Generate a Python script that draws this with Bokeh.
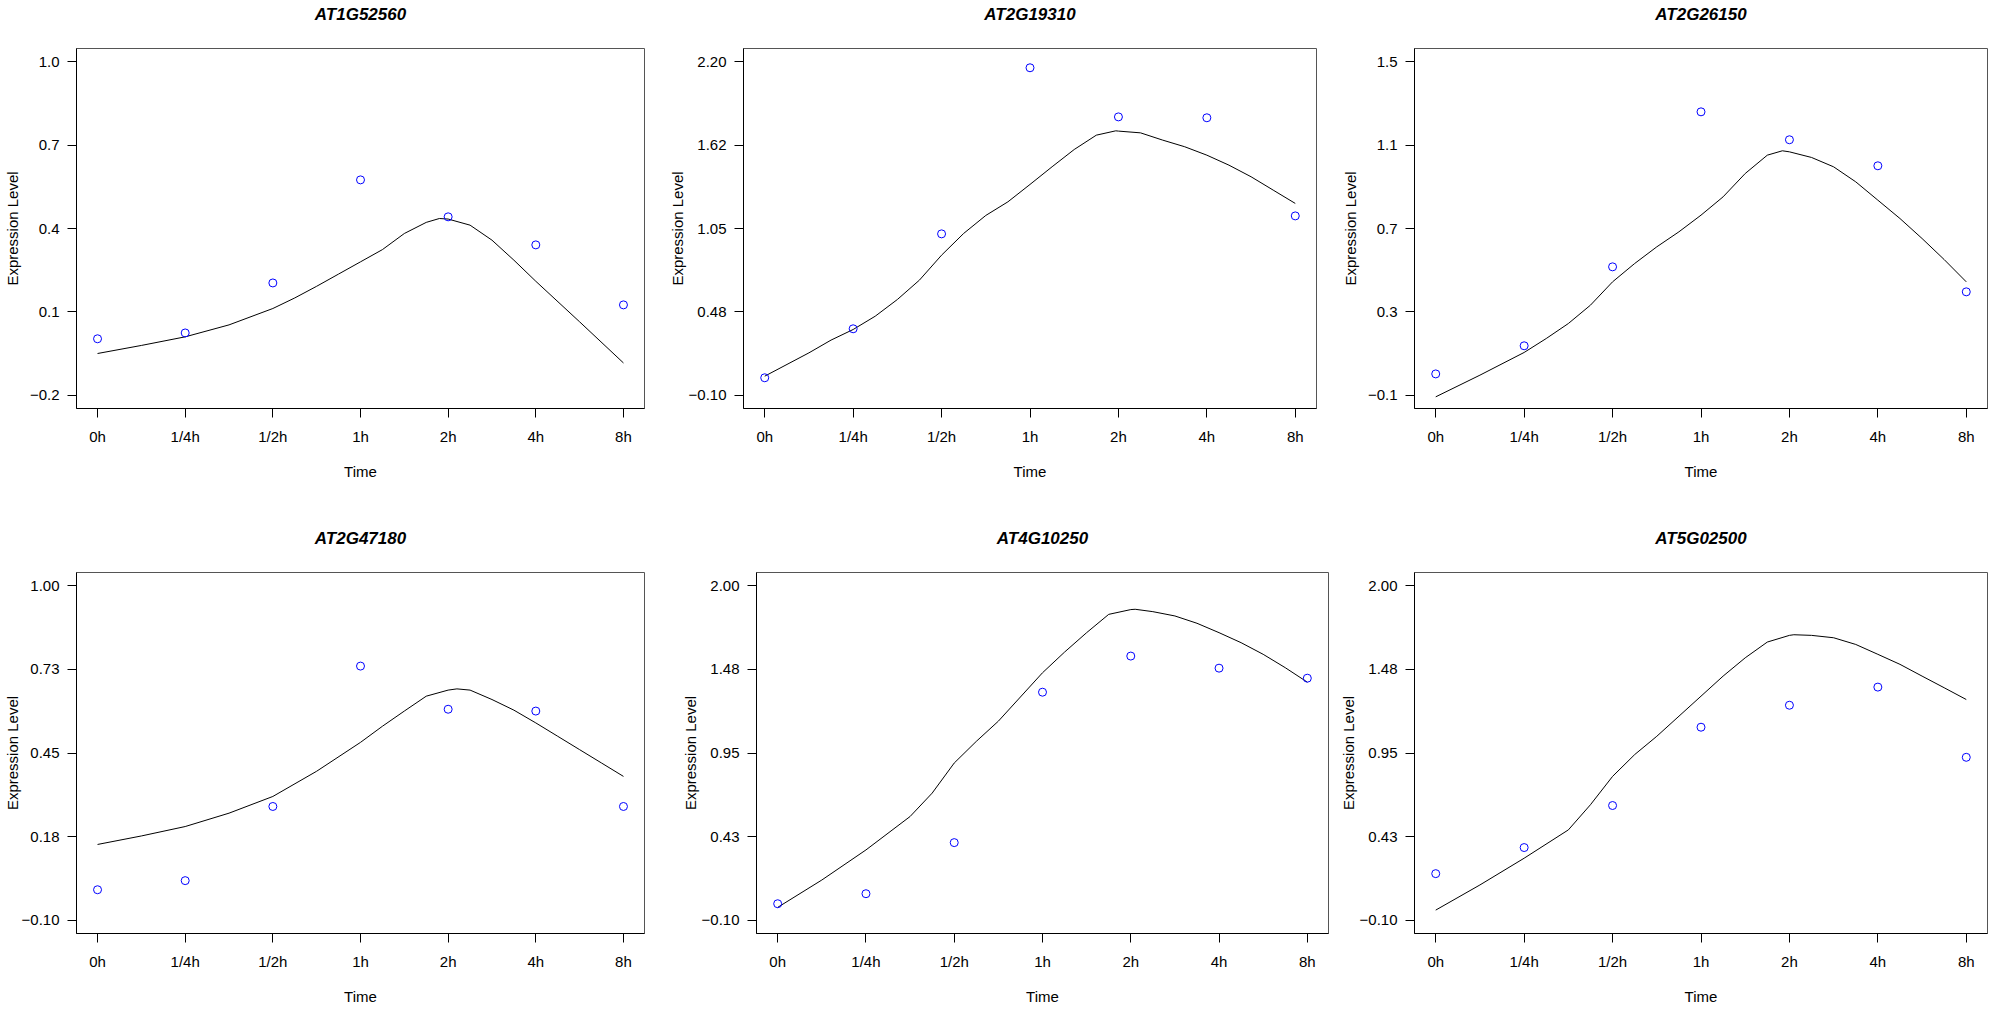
from bokeh.plotting import figure
from bokeh.layouts import row, column
from bokeh.models import FixedTicker, Range1d, Title
from bokeh.embed import file_html
from bokeh.resources import INLINE

# ---------------- data ----------------
time_labels = ["0h", "1/4h", "1/2h", "1h", "2h", "4h", "8h"]
time_pos = [1, 2, 3, 4, 5, 6, 7]

genes = ["AT1G52560", "AT2G19310", "AT2G26150", "AT2G47180", "AT4G10250", "AT5G02500"]

# observed expression (blue circles)
at1g52560_obs = [0.003, 0.024, 0.204, 0.575, 0.442, 0.341, 0.125]
at2g19310_obs = [0.020, 0.358, 1.013, 2.159, 1.820, 1.814, 1.137]
at2g26150_obs = [0.002, 0.137, 0.516, 1.260, 1.126, 1.001, 0.396]
at2g47180_obs = [0.000, 0.030, 0.274, 0.736, 0.594, 0.588, 0.274]
at4g10250_obs = [0.003, 0.066, 0.387, 1.332, 1.559, 1.483, 1.420]
at5g02500_obs = [0.192, 0.356, 0.620, 1.112, 1.250, 1.364, 0.923]

# fitted curve
at1g52560_fit_x = [1, 1.5, 2, 2.5, 3, 3.25, 3.5, 3.75, 4, 4.25, 4.5, 4.75, 4.9, 5, 5.25, 5.5, 5.75, 6, 6.5, 7]
at1g52560_fit_y = [-0.050, -0.021, 0.010, 0.053, 0.112, 0.150, 0.192, 0.236, 0.280, 0.324, 0.382, 0.422,
                   0.436, 0.434, 0.412, 0.358, 0.286, 0.210, 0.064, -0.084]
at2g19310_fit_x = [1, 1.5, 1.75, 2, 2.25, 2.5, 2.75, 3, 3.25, 3.5, 3.75, 4, 4.25, 4.5, 4.75, 4.97, 5,
                   5.25, 5.5, 5.75, 6, 6.25, 6.5, 6.75, 7]
at2g19310_fit_y = [0.031, 0.192, 0.280, 0.353, 0.445, 0.560, 0.694, 0.866, 1.016, 1.140, 1.234, 1.354,
                   1.476, 1.595, 1.694, 1.724, 1.722, 1.710, 1.660, 1.614, 1.556, 1.487, 1.407, 1.315, 1.223]
at2g26150_fit_x = [1, 1.5, 2, 2.25, 2.5, 2.75, 3, 3.25, 3.5, 3.75, 4, 4.25, 4.5, 4.75, 4.92, 5,
                   5.25, 5.5, 5.75, 6, 6.25, 6.5, 6.75, 7]
at2g26150_fit_y = [-0.108, -0.004, 0.105, 0.172, 0.244, 0.332, 0.444, 0.532, 0.612, 0.684, 0.764, 0.852,
                   0.964, 1.052, 1.073, 1.068, 1.041, 0.996, 0.924, 0.836, 0.748, 0.652, 0.551, 0.444]
at2g47180_fit_x = [1, 1.5, 2, 2.5, 3, 3.5, 4, 4.25, 4.5, 4.75, 5, 5.1, 5.25, 5.5, 5.75, 6, 6.25, 6.5, 6.75, 7]
at2g47180_fit_y = [0.149, 0.177, 0.208, 0.252, 0.307, 0.390, 0.485, 0.538, 0.588, 0.637, 0.657, 0.661,
                   0.657, 0.626, 0.591, 0.549, 0.505, 0.461, 0.417, 0.373]
at4g10250_fit_x = [1, 1.5, 2, 2.5, 2.75, 3, 3.25, 3.5, 4, 4.25, 4.5, 4.75, 5, 5.05, 5.25, 5.5, 5.75,
                   6, 6.25, 6.5, 6.75, 7]
at4g10250_fit_y = [-0.020, 0.152, 0.341, 0.551, 0.698, 0.887, 1.023, 1.150, 1.454, 1.584, 1.706, 1.821,
                   1.851, 1.853, 1.838, 1.811, 1.765, 1.706, 1.643, 1.570, 1.486, 1.395]
at5g02500_fit_x = [1, 1.5, 2, 2.5, 2.75, 3, 3.25, 3.5, 4, 4.25, 4.5, 4.75, 5, 5.05, 5.25, 5.5, 5.75,
                   6, 6.25, 6.5, 6.75, 7]
at5g02500_fit_y = [-0.037, 0.121, 0.289, 0.467, 0.625, 0.803, 0.940, 1.055, 1.307, 1.433, 1.548, 1.647,
                   1.689, 1.693, 1.689, 1.674, 1.632, 1.570, 1.507, 1.433, 1.360, 1.286]

# y axis limits and ticks
at1g52560_ylim = [-0.2, 1.0]
at2g19310_ylim = [-0.1, 2.2]
at2g26150_ylim = [-0.1, 1.5]
at2g47180_ylim = [-0.1, 1.0]
at4g10250_ylim = [-0.1, 2.0]
at5g02500_ylim = [-0.1, 2.0]

at1g52560_yticks = [-0.2, 0.1, 0.4, 0.7, 1.0]
at1g52560_ylabels = ["\u22120.2", "0.1", "0.4", "0.7", "1.0"]
at2g19310_yticks = [-0.1, 0.475, 1.05, 1.625, 2.2]
at2g19310_ylabels = ["\u22120.10", "0.48", "1.05", "1.62", "2.20"]
at2g26150_yticks = [-0.1, 0.3, 0.7, 1.1, 1.5]
at2g26150_ylabels = ["\u22120.1", "0.3", "0.7", "1.1", "1.5"]
at2g47180_yticks = [-0.1, 0.175, 0.45, 0.725, 1.0]
at2g47180_ylabels = ["\u22120.10", "0.18", "0.45", "0.73", "1.00"]
at4g10250_yticks = [-0.1, 0.425, 0.95, 1.475, 2.0]
at4g10250_ylabels = ["\u22120.10", "0.43", "0.95", "1.48", "2.00"]
at5g02500_yticks = [-0.1, 0.425, 0.95, 1.475, 2.0]
at5g02500_ylabels = ["\u22120.10", "0.43", "0.95", "1.48", "2.00"]

panels = [
    (genes[0], at1g52560_obs, at1g52560_fit_x, at1g52560_fit_y, at1g52560_ylim, at1g52560_yticks, at1g52560_ylabels),
    (genes[1], at2g19310_obs, at2g19310_fit_x, at2g19310_fit_y, at2g19310_ylim, at2g19310_yticks, at2g19310_ylabels),
    (genes[2], at2g26150_obs, at2g26150_fit_x, at2g26150_fit_y, at2g26150_ylim, at2g26150_yticks, at2g26150_ylabels),
    (genes[3], at2g47180_obs, at2g47180_fit_x, at2g47180_fit_y, at2g47180_ylim, at2g47180_yticks, at2g47180_ylabels),
    (genes[4], at4g10250_obs, at4g10250_fit_x, at4g10250_fit_y, at4g10250_ylim, at4g10250_yticks, at4g10250_ylabels),
    (genes[5], at5g02500_obs, at5g02500_fit_x, at5g02500_fit_y, at5g02500_ylim, at5g02500_yticks, at5g02500_ylabels),
]

# ---------------- layout (pixel geometry) ----------------
# (fig width, border left, border right, fig height, border top, border bottom, ylabel standoff)
geom = [
    (664, 72, 20, 508, 48, 100, 6),
    (671, 79, 19, 508, 48, 100, 0),
    (658, 79, 6, 508, 48, 100, 6),
    (664, 72, 20, 508, 64, 83, -2),
    (671, 92, 7, 508, 64, 83, 0),
    (658, 79, 6, 508, 64, 83, 0),
]

FONT = "Liberation Sans"


def make_panel(spec, g):
    name, obs, fx, fy, ylim, yt, yl = spec
    w, bl, br, h, bt, bb, ystand = g
    span = ylim[1] - ylim[0]
    p = figure(width=w, height=h, output_backend="svg", toolbar_location=None,
               x_range=Range1d(0.76, 7.24),
               y_range=Range1d(ylim[0] - 0.04 * span, ylim[1] + 0.04 * span),
               min_border_left=bl, min_border_right=br,
               min_border_top=bt, min_border_bottom=bb,
               background_fill_color="white", border_fill_color="white",
               title=None)

    # invisible spacer between the frame and the panel title
    p.add_layout(Title(text=" ", text_font=FONT, text_font_size="10px", standoff=12), "above")
    p.add_layout(Title(text=name, align="center", text_font=FONT, text_font_size="17px",
                       text_font_style="bold italic", text_color="black", standoff=0), "above")

    p.xgrid.visible = False
    p.ygrid.visible = False
    p.outline_line_color = "#555555"
    p.outline_line_width = 1

    xa = p.xaxis[0]
    xa.ticker = FixedTicker(ticks=time_pos)
    xa.major_label_overrides = {t: lab for t, lab in zip(time_pos, time_labels)}
    xa.axis_label = "Time"
    ya = p.yaxis[0]
    ya.ticker = FixedTicker(ticks=yt)
    ya.major_label_overrides = {t: lab for t, lab in zip(yt, yl)}
    ya.axis_label = "Expression Level"

    for ax in (xa, ya):
        ax.major_tick_in = 0
        ax.major_tick_out = 9
        ax.minor_tick_in = 0
        ax.minor_tick_out = 0
        ax.major_tick_line_color = "black"
        ax.axis_line_color = "black"
        ax.major_label_text_font = FONT
        ax.major_label_text_font_size = "15px"
        ax.major_label_text_color = "black"
        ax.axis_label_text_font = FONT
        ax.axis_label_text_font_size = "15px"
        ax.axis_label_text_font_style = "normal"
        ax.axis_label_text_color = "black"
    xa.major_label_standoff = 10
    xa.axis_label_standoff = 15
    ya.major_label_standoff = 8
    ya.axis_label_standoff = ystand

    p.line(fx, fy, line_color="black", line_width=1)
    p.scatter(time_pos, obs, marker="circle", size=8, fill_color=None,
              line_color="blue", line_width=1)
    return p


figs = [make_panel(s, g) for s, g in zip(panels, geom)]
layout = column(row(figs[0], figs[1], figs[2]), row(figs[3], figs[4], figs[5]))

open("out.html", "w").write(file_html(layout, INLINE))
